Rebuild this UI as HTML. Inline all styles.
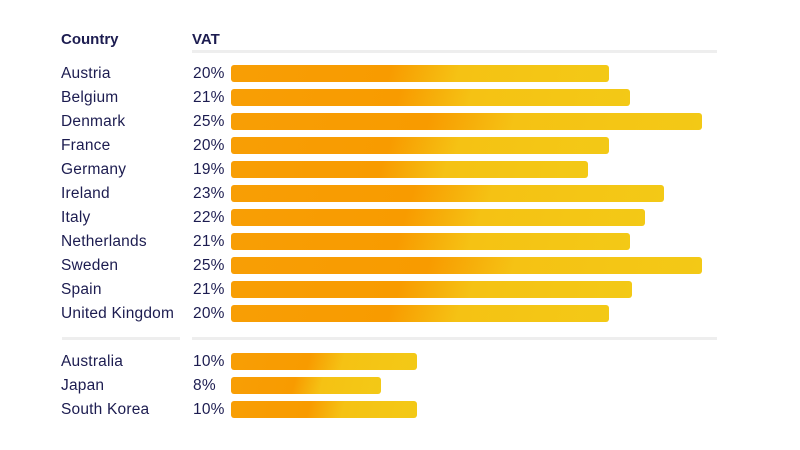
<!DOCTYPE html>
<html><head><style>
body{margin:0;width:800px;height:450px;background:#fff;font-family:"Liberation Sans",sans-serif;color:#1c1c50;position:relative;overflow:hidden}
.t{position:absolute;font-size:15.5px;line-height:18px;letter-spacing:0.2px}
.h{font-weight:bold;font-size:15px;letter-spacing:0}
.bar{position:absolute;left:231px;height:17px;border-radius:3px;background:linear-gradient(105deg,#f89e05 0%,#f89b00 42%,#f5c214 60%,#f3c916 100%)}
.ln{position:absolute;height:3px;background:#eeeeee}
</style></head><body>
<div class="t h" style="left:61px;top:31px">Country</div>
<div class="t h" style="left:192px;top:31px">VAT</div>
<div class="ln" style="left:192px;top:50px;width:525px"></div>
<div class="ln" style="left:62px;top:337px;width:118px"></div>
<div class="ln" style="left:192px;top:337px;width:525px"></div>
<div id="rows"></div>
<script>
var d=[["Austria","20%",609,73],["Belgium","21%",630,97],["Denmark","25%",702,121],["France","20%",609,145],["Germany","19%",588,169],["Ireland","23%",664,193],["Italy","22%",645,217],["Netherlands","21%",630,241],["Sweden","25%",702,265],["Spain","21%",632,289],["United Kingdom","20%",609,313],["Australia","10%",417,361],["Japan","8%",381,385],["South Korea","10%",417,409]];
var h="";d.forEach(function(r){h+='<div class="t" style="left:61px;top:'+(r[3]-8)+'px">'+r[0]+'</div><div class="t" style="left:193px;top:'+(r[3]-8)+'px">'+r[1]+'</div><div class="bar" style="top:'+(r[3]-8)+'px;width:'+(r[2]-231)+'px"></div>';});
document.getElementById("rows").innerHTML=h;
</script>
</body></html>
